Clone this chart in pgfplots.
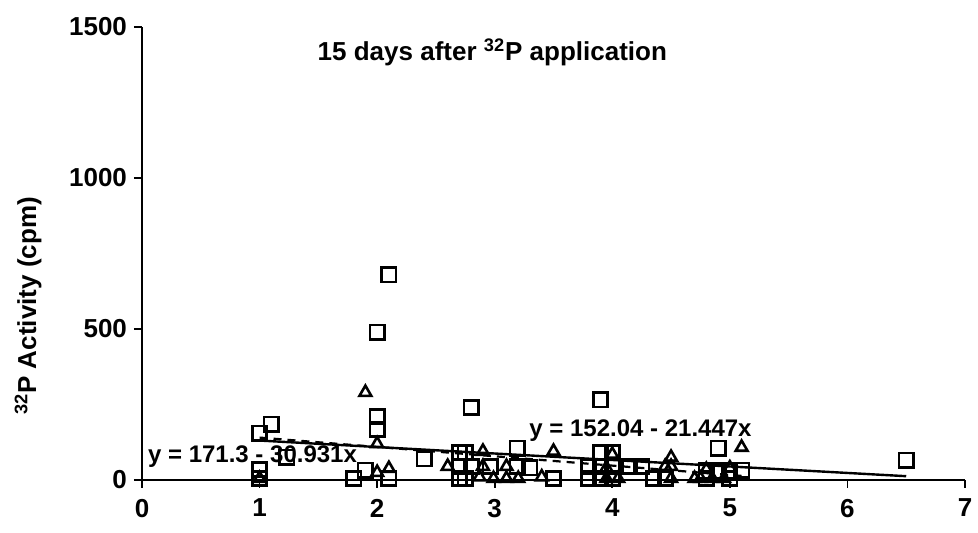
\documentclass[border=0pt]{standalone}
\usepackage{fontspec}
\setmainfont{Liberation Sans}
\usepackage{pgfplots}
\pgfplotsset{compat=1.18}
\begin{document}
\begin{tikzpicture}
\path[use as bounding box] (-71pt,-26.5pt) rectangle (418pt,240pt);
\begin{axis}[
  scale only axis, width=411.5pt, height=226.5pt,
  xmin=0, xmax=7, ymin=0, ymax=1500,
  axis lines=left, axis line style={-, line width=1pt},
  xtick={0,1,...,7}, ytick={0,500,1000,1500},
  tick align=outside, major tick length=4pt,
  tick style={line width=0.8pt, black},
  /pgf/number format/assume math mode=true,
  /pgf/number format/set thousands separator={},
  tick label style={font=\bfseries\fontsize{13}{15}\selectfont},
  xticklabel style={yshift=-2pt},
  clip=false,
]
% squares
\addplot[only marks, mark=square, mark size=3.6pt, mark options={line width=1.3pt, black, fill=white}] coordinates {
(1.0,155)(1.1,185)(1.0,35)(1.0,5)(1.23,75)
(1.8,5)(1.9,33)(2.0,490)(2.1,680)(2.0,210)(2.0,168)(2.1,5)
(2.4,70)(2.8,240)
(2.7,90)(2.75,90)(2.7,45)(2.8,45)(2.7,5)(2.75,5)(2.96,45)(3.19,105)(3.19,45)(3.3,40)(3.5,5)
(3.9,265)(3.9,90)(4.0,90)(3.8,45)(3.9,45)(4.0,45)(4.15,45)(4.25,45)(3.8,5)(3.9,5)(4.0,5)(4.35,5)(4.45,5)(4.8,5)
(4.9,105)(4.8,30)(4.9,30)(5.0,30)(5.0,5)(5.1,33)(6.5,65)
};
% triangles
\addplot[only marks, mark=triangle, mark size=3.4pt, mark options={line width=1.3pt, black, fill=white}] coordinates {
(1.9,290)(2.0,120)(2.0,25)(2.1,38)(1.0,5)
(2.9,95)(2.6,45)(2.9,45)(3.1,45)(2.87,10)(2.99,5)(3.1,5)(3.2,5)(3.4,10)(3.5,95)
(4.0,85)(3.95,40)(3.95,5)(4.05,5)(4.45,45)(4.5,45)(4.5,75)(4.5,5)(4.75,5)
(5.1,108)(4.7,5)(4.85,5)(4.95,5)(4.8,35)(5.0,40)
};
% regression lines
\addplot[black, line width=1.2pt] coordinates {(1,130.6)(6.5,12.6)};
\addplot[black, line width=1.1pt, dash pattern=on 4pt off 3pt] coordinates {(1,140.4)(5.1,13.6)};
\node[font=\bfseries\fontsize{13}{15}\selectfont] at (axis cs:2.98,1417) {15 days after \textsuperscript{32}P application};
\node[font=\bfseries\fontsize{12}{14}\selectfont] at (axis cs:0.94,76) {y = 171.3 - 30.931x};
\node[font=\bfseries\fontsize{12}{14}\selectfont] at (axis cs:4.24,165) {y = 152.04 - 21.447x};
\node[rotate=90, font=\bfseries\fontsize{13}{15}\selectfont] at (axis description cs:0,0.385) [xshift=0pt] {};
\end{axis}
\node[rotate=90, font=\bfseries\fontsize{13}{15}\selectfont] at (-57pt,87pt) {\textsuperscript{32}P Activity (cpm)};
\end{tikzpicture}
\end{document}
